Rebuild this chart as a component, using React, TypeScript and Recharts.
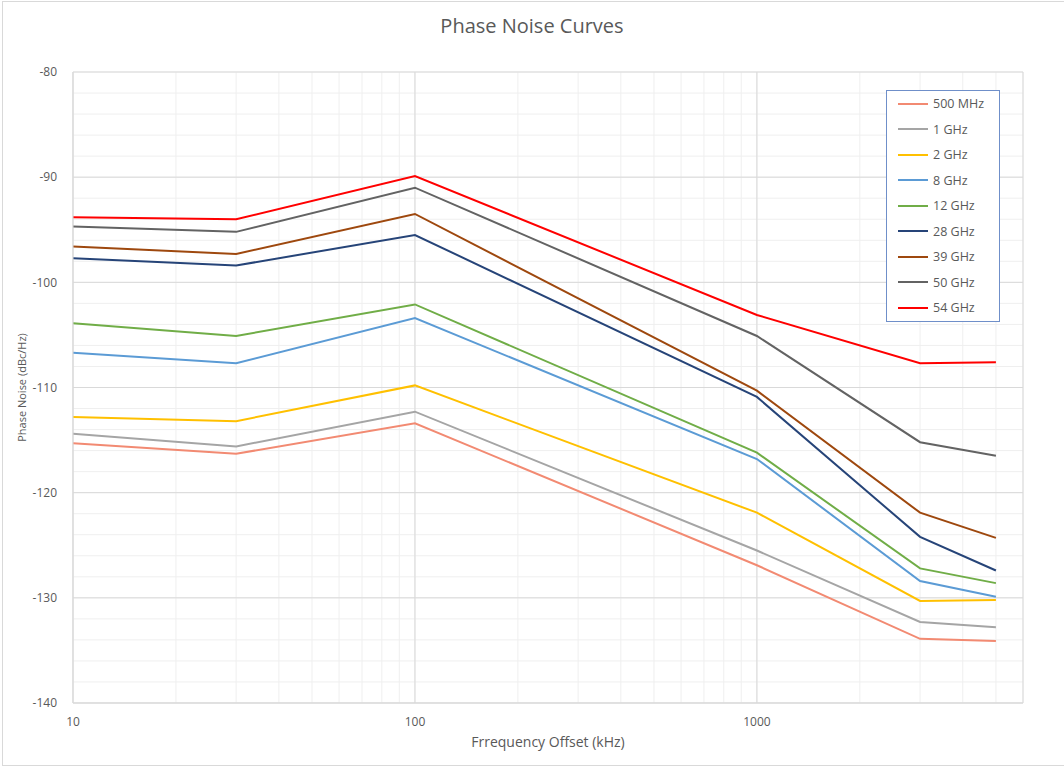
import React from 'react';
import { LineChart, Line, XAxis, YAxis, CartesianGrid, Label } from 'recharts';

// offsets in kHz
const offsets = [10, 30, 100, 1000, 3000, 5000];

// phase noise in dBc/Hz, one list per carrier
const noise500M = [-115.3, -116.3, -113.4, -126.9, -133.9, -134.1];
const noise1G = [-114.4, -115.6, -112.3, -125.5, -132.3, -132.8];
const noise2G = [-112.8, -113.2, -109.8, -121.9, -130.3, -130.2];
const noise8G = [-106.7, -107.7, -103.4, -116.8, -128.4, -129.9];
const noise12G = [-103.9, -105.1, -102.1, -116.2, -127.2, -128.6];
const noise28G = [-97.7, -98.4, -95.5, -110.9, -124.2, -127.4];
const noise39G = [-96.6, -97.3, -93.5, -110.3, -121.9, -124.3];
const noise50G = [-94.7, -95.2, -91.0, -105.1, -115.2, -116.5];
const noise54G = [-93.8, -94.0, -89.9, -103.1, -107.7, -107.6];

const xTicks = [10, 100, 1000];
const xMinorTicks = [10, 20, 30, 40, 50, 60, 70, 80, 90, 100, 200, 300, 400, 500, 600, 700, 800, 900, 1000, 2000, 3000, 4000, 5000, 6000];
const yTicks = [-140, -130, -120, -110, -100, -90, -80];
const yMinorTicks = [-140, -138, -136, -134, -132, -130, -128, -126, -124, -122, -120, -118, -116, -114, -112, -110, -108, -106, -104, -102, -100, -98, -96, -94, -92, -90, -88, -86, -84, -82, -80];

const series = [
  { key: 's500M', name: '500 MHz', values: noise500M, color: '#F28A72' },
  { key: 's1G', name: '1 GHz', values: noise1G, color: '#A5A5A5' },
  { key: 's2G', name: '2 GHz', values: noise2G, color: '#FFC000' },
  { key: 's8G', name: '8 GHz', values: noise8G, color: '#5B9BD5' },
  { key: 's12G', name: '12 GHz', values: noise12G, color: '#70AD47' },
  { key: 's28G', name: '28 GHz', values: noise28G, color: '#264478' },
  { key: 's39G', name: '39 GHz', values: noise39G, color: '#9E480E' },
  { key: 's50G', name: '50 GHz', values: noise50G, color: '#636363' },
  { key: 's54G', name: '54 GHz', values: noise54G, color: '#FF0000' },
];

const data = offsets.map((f, i) => {
  const row: Record<string, number> = { f };
  series.forEach(s => {
    row[s.key] = s.values[i];
  });
  return row;
});

const font = '"Open Sans", "Segoe UI", sans-serif';
const textColor = '#595959';

// legend drawn as plain html so it doesn't eat into the plot area
const LegendBox = () => (
  <div
    style={{
      position: 'absolute',
      left: 886,
      top: 90,
      width: 114,
      border: '1px solid #6F8FC9',
      boxSizing: 'border-box',
      background: '#fff',
      fontFamily: font,
      fontSize: 12.5,
      color: textColor,
    }}
  >
    {series.map(s => (
      <div key={s.key} style={{ display: 'flex', alignItems: 'center', height: 25.5 }}>
        <span style={{ display: 'inline-block', width: 30, height: 2, background: s.color, marginLeft: 11, marginRight: 5 }} />
        <span>{s.name}</span>
      </div>
    ))}
  </div>
);

export default function App() {
  return (
    <div style={{ position: 'absolute', left: 0, top: 0, width: 1064, height: 768, background: '#fff' }}>
      <div
        style={{
          position: 'absolute',
          left: 2,
          top: 1,
          width: 1070,
          height: 765,
          border: '1px solid #d9d9d9',
          boxSizing: 'border-box',
        }}
      />
      <div
        style={{
          position: 'absolute',
          top: 12,
          left: 0,
          width: 1064,
          textAlign: 'center',
          fontFamily: font,
          fontSize: 20,
          color: textColor,
        }}
      >
        Phase Noise Curves
      </div>
      <div style={{ position: 'absolute', left: 0, top: 0 }}>
        <LineChart width={1064} height={768} data={data} margin={{ top: 72, right: 41, bottom: 25, left: 28 }}>
          <XAxis xAxisId="minor" dataKey="f" type="number" scale="log" domain={[10, 6000]} ticks={xMinorTicks} interval={0} hide allowDataOverflow />
          <YAxis yAxisId="minor" type="number" domain={[-140, -80]} ticks={yMinorTicks} interval={0} hide allowDataOverflow />
          <CartesianGrid xAxisId="minor" yAxisId="minor" stroke="#efefef" strokeWidth={1} />
          <CartesianGrid stroke="#d9d9d9" strokeWidth={1} />
          <XAxis
            dataKey="f"
            type="number"
            scale="log"
            domain={[10, 6000]}
            ticks={xTicks}
            interval={0}
            allowDataOverflow
            height={40}
            axisLine={{ stroke: '#d9d9d9' }}
            tickLine={false}
            tick={{ fill: textColor, fontSize: 12, fontFamily: font }}
            tickMargin={8}
          >
            <Label value="Frrequency Offset (kHz)" position="insideBottom" offset={-4} fill={textColor} fontSize={14} fontFamily={font} />
          </XAxis>
          <YAxis
            type="number"
            domain={[-140, -80]}
            ticks={yTicks}
            interval={0}
            allowDataOverflow
            width={45}
            axisLine={{ stroke: '#d9d9d9' }}
            tickLine={false}
            tick={{ fill: textColor, fontSize: 12, fontFamily: font }}
            tickMargin={10}
          >
            <Label
              value="Phase Noise (dBc/Hz)"
              angle={-90}
              position="insideLeft"
              offset={-6}
              style={{ textAnchor: 'middle' }}
              fill={textColor}
              fontSize={11}
              fontFamily={font}
            />
          </YAxis>
          {series.map(s => (
            <Line
              key={s.key}
              dataKey={s.key}
              name={s.name}
              stroke={s.color}
              strokeWidth={2}
              dot={false}
              type="linear"
              isAnimationActive={false}
            />
          ))}
        </LineChart>
      </div>
      <LegendBox />
    </div>
  );
}
